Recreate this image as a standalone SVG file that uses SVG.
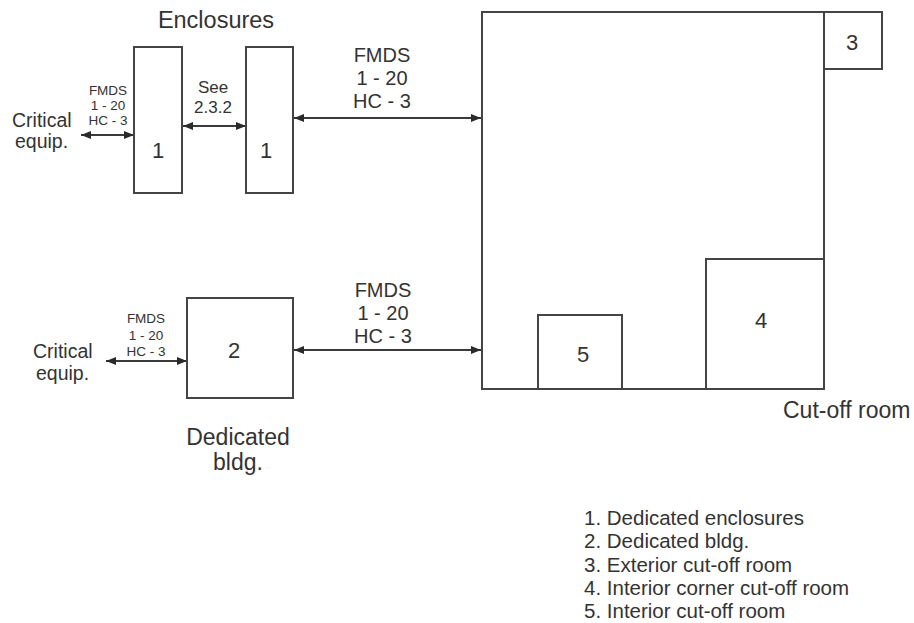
<svg xmlns="http://www.w3.org/2000/svg" width="914" height="623" viewBox="0 0 914 623">
<defs>
<marker id="ah" viewBox="0 0 10 8" refX="10" refY="4" markerWidth="10" markerHeight="8" markerUnits="userSpaceOnUse" orient="auto-start-reverse">
<path d="M0,0 L10,4 L0,8 Z" fill="#2a2a2a"/>
</marker>
</defs>
<style>
.box{fill:none;stroke:#444;stroke-width:2}
.con{stroke:#3a3a3a;stroke-width:2;fill:none;marker-start:url(#ah);marker-end:url(#ah)}
text{font-family:"Liberation Sans",Arial,sans-serif;fill:#333}
.big{font-size:23px}
.num{font-size:22px;text-anchor:middle}
.lbl{font-size:20px;text-anchor:middle}
.sm{font-size:13.5px;text-anchor:middle}
.side{font-size:19.5px}
.leg{font-size:20.5px}
</style>
<rect width="914" height="623" fill="#fff"/>
<g id="connectors">
<line class="con" x1="81" y1="135" x2="134" y2="135"/>
<line class="con" x1="183" y1="126" x2="246" y2="126"/>
<line class="con" x1="294" y1="118" x2="481" y2="118"/>
<line class="con" x1="106" y1="361" x2="187" y2="361"/>
<line class="con" x1="294" y1="350" x2="481" y2="350"/>
</g>
<g id="enclosures-title"><text class="big" x="216" y="28" text-anchor="middle" style="font-size:23.5px">Enclosures</text></g>
<g id="enclosure-1a"><rect class="box" x="134" y="47" width="48" height="146"/><text class="num" x="158" y="158">1</text></g>
<g id="enclosure-1b"><rect class="box" x="246" y="47" width="47" height="146"/><text class="num" x="266" y="158">1</text></g>
<g id="critical-equip-1"><text class="side" x="12" y="127">Critical</text><text class="side" x="15" y="148">equip.</text></g>
<g id="label-a"><text class="sm" x="108" y="95">FMDS</text><text class="sm" x="108" y="110">1 - 20</text><text class="sm" x="108" y="125">HC - 3</text></g>
<g id="label-see"><text class="lbl" x="213" y="93" style="font-size:17px">See</text><text class="lbl" x="213" y="113" style="font-size:17px">2.3.2</text></g>
<g id="label-c"><text class="lbl" x="382" y="62">FMDS</text><text class="lbl" x="382" y="85">1 - 20</text><text class="lbl" x="382" y="108">HC - 3</text></g>
<g id="dedicated-bldg"><rect class="box" x="187" y="298" width="106" height="100"/><text class="num" x="234" y="358">2</text><text class="big" x="238" y="445" text-anchor="middle">Dedicated</text><text class="big" x="238" y="470" text-anchor="middle">bldg.</text></g>
<g id="critical-equip-2"><text class="side" x="33" y="358">Critical</text><text class="side" x="36" y="380">equip.</text></g>
<g id="label-d"><text class="sm" x="146" y="323">FMDS</text><text class="sm" x="146" y="340">1 - 20</text><text class="sm" x="146" y="356">HC - 3</text></g>
<g id="label-e"><text class="lbl" x="383" y="297">FMDS</text><text class="lbl" x="383" y="320">1 - 20</text><text class="lbl" x="383" y="343">HC - 3</text></g>
<g id="cutoff-room"><rect class="box" x="482" y="12" width="342" height="377"/><text class="big" x="783" y="418">Cut-off room</text></g>
<g id="room-3"><path class="box" d="M824,12 H882 V69 H824"/><text class="num" x="852" y="50">3</text></g>
<g id="room-4"><rect class="box" x="706" y="259" width="118" height="130"/><text class="num" x="761" y="328">4</text></g>
<g id="room-5"><rect class="box" x="538" y="315" width="84" height="74"/><text class="num" x="583" y="362">5</text></g>
<g id="legend">
<text class="leg" x="584" y="525">1. Dedicated enclosures</text>
<text class="leg" x="584" y="548">2. Dedicated bldg.</text>
<text class="leg" x="584" y="572">3. Exterior cut-off room</text>
<text class="leg" x="584" y="595">4. Interior corner cut-off room</text>
<text class="leg" x="584" y="618">5. Interior cut-off room</text>
</g>
</svg>
